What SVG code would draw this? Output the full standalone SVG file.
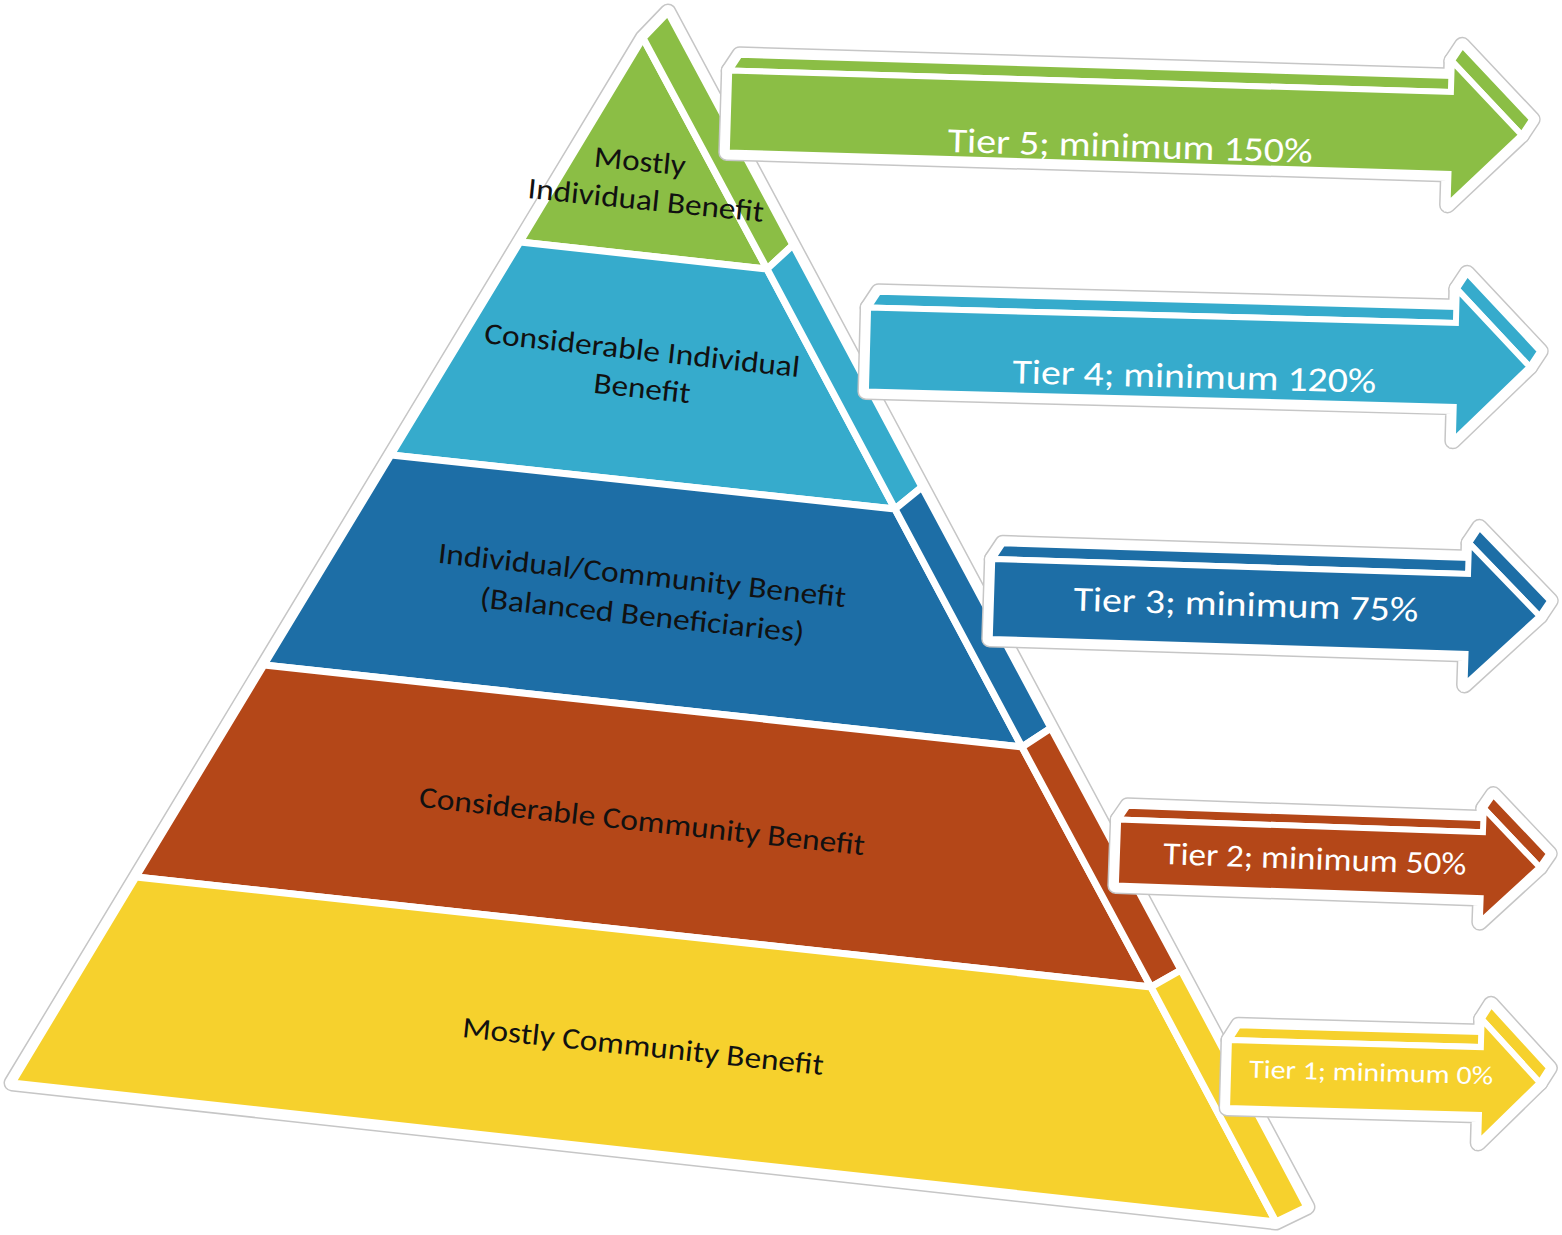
<svg xmlns="http://www.w3.org/2000/svg" xmlns:xlink="http://www.w3.org/1999/xlink" width="1562" height="1235" viewBox="0 0 1562 1235">
<style>
.ol{fill:none;stroke:#c6c6c6;stroke-width:17;stroke-linejoin:round}
.wb{fill:#fff;stroke:#fff;stroke-width:14;stroke-linejoin:round}
.pf{stroke:#fff;stroke-width:7;stroke-linejoin:miter}
.af{stroke:#fff;stroke-width:6;stroke-linejoin:miter}
.green{fill:#8BBE45}.cyan{fill:#36ABCC}.blue{fill:#1D6EA6}.orange{fill:#B44718}.yellow{fill:#F6D12D}
.pt{font-family:Carlito,Calibri,Lato,"Open Sans",sans-serif;font-size:30px;fill:#111;text-anchor:middle}
.tt{font-family:Carlito,Calibri,Lato,"Open Sans",sans-serif;fill:#fff;text-anchor:middle}
</style>
<defs>
<polygon id="pyr-sil" points="643,38 668,12 1307,1207 1276,1222 12,1083"/>
<g id="a5-shape"><polygon points="0,-41 722,-41 732,-57 10,-57"/><polygon points="722,-72 794,0 804,-16 732,-88"/><polygon points="0,-41 722,-41 722,-72 794,0 722,72 722,41 0,41"/></g>
<g id="a4-shape"><polygon points="0,-42 588,-42 598,-58 10,-58"/><polygon points="588,-76 663,0 673,-16 598,-92"/><polygon points="0,-42 588,-42 588,-76 663,0 588,76 588,42 0,42"/></g>
<g id="a3-shape"><polygon points="0,-40 476,-40 486,-56 10,-56"/><polygon points="476,-71 549,0 559,-16 486,-87"/><polygon points="0,-40 476,-40 476,-71 549,0 476,71 476,40 0,40"/></g>
<g id="a2-shape"><polygon points="0,-33 365,-33 374,-47 9,-47"/><polygon points="365,-57 423,0 432,-14 374,-71"/><polygon points="0,-33 365,-33 365,-57 423,0 365,57 365,33 0,33"/></g>
<g id="a1-shape"><polygon points="0,-34 252,-34 261,-49 9,-49"/><polygon points="252,-62 312,0 321,-15 261,-77"/><polygon points="0,-34 252,-34 252,-62 312,0 252,62 252,34 0,34"/></g>
</defs>

<g id="pyramid-outline">
<use href="#pyr-sil" class="ol"/>
<use href="#pyr-sil" class="wb"/>
</g>

<g id="level5-mostly-individual">
<polygon class="pf green" points="643,38 520,242 767,269"/>
<polygon class="pf green" points="643,38 668,12 793,245 767,269"/>
<text class="pt" x="639" y="171" textLength="92" lengthAdjust="spacingAndGlyphs" transform="rotate(5.5 639 171)">Mostly</text>
<text class="pt" x="645" y="210" textLength="237" lengthAdjust="spacingAndGlyphs" transform="rotate(5.8 645 210)">Individual Benefit</text>
</g>

<g id="level4-considerable-individual">
<polygon class="pf cyan" points="520,242 767,269 895,509 391,455"/>
<polygon class="pf cyan" points="767,269 793,245 922,487 895,509"/>
<text class="pt" x="641" y="360" textLength="317" lengthAdjust="spacingAndGlyphs" transform="rotate(6.2 641 360)">Considerable Individual</text>
<text class="pt" x="641" y="398" textLength="97" lengthAdjust="spacingAndGlyphs" transform="rotate(6.2 641 398)">Benefit</text>
</g>

<g id="level3-balanced">
<polygon class="pf blue" points="391,455 895,509 1022,747 264,665"/>
<polygon class="pf blue" points="895,509 922,487 1051,728 1022,747"/>
<text class="pt" x="641" y="585" textLength="410" lengthAdjust="spacingAndGlyphs" transform="rotate(6.2 641 585)">Individual/Community Benefit</text>
<text class="pt" x="641" y="625" textLength="326" lengthAdjust="spacingAndGlyphs" transform="rotate(6.2 641 625)">(Balanced Beneficiaries)</text>
</g>

<g id="level2-considerable-community">
<polygon class="pf orange" points="264,665 1022,747 1151,987 136,877"/>
<polygon class="pf orange" points="1022,747 1051,728 1181,970 1151,987"/>
<text class="pt" x="641" y="831" textLength="448" lengthAdjust="spacingAndGlyphs" transform="rotate(6.2 641 831)">Considerable Community Benefit</text>
</g>

<g id="level1-mostly-community">
<polygon class="pf yellow" points="136,877 1151,987 1276,1222 12,1083"/>
<polygon class="pf yellow" points="1151,987 1181,970 1307,1207 1276,1222"/>
<text class="pt" x="642" y="1056" textLength="363" lengthAdjust="spacingAndGlyphs" transform="rotate(6 642 1056)">Mostly Community Benefit</text>
</g>

<g id="connectors"></g>

<g id="arrow-tier5" transform="translate(728 111.5) rotate(1.7)">
<use href="#a5-shape" class="ol"/>
<use href="#a5-shape" class="wb"/>
<use href="#a5-shape" class="af green"/>
<text class="tt" x="403" y="34" font-size="35" textLength="365" lengthAdjust="spacingAndGlyphs">Tier 5; minimum 150%</text>
</g>

<g id="arrow-tier4" transform="translate(867 349.5) rotate(1.5)">
<use href="#a4-shape" class="ol"/>
<use href="#a4-shape" class="wb"/>
<use href="#a4-shape" class="af cyan"/>
<text class="tt" x="328" y="30" font-size="35" textLength="364" lengthAdjust="spacingAndGlyphs">Tier 4; minimum 120%</text>
</g>

<g id="arrow-tier3" transform="translate(991 599) rotate(1.8)">
<use href="#a3-shape" class="ol"/>
<use href="#a3-shape" class="wb"/>
<use href="#a3-shape" class="af blue"/>
<text class="tt" x="255" y="9" font-size="35" textLength="345" lengthAdjust="spacingAndGlyphs">Tier 3; minimum 75%</text>
</g>

<g id="arrow-tier2" transform="translate(1117 852.5) rotate(2)">
<use href="#a2-shape" class="ol"/>
<use href="#a2-shape" class="wb"/>
<use href="#a2-shape" class="af orange"/>
<text class="tt" x="198" y="10" font-size="32" textLength="303" lengthAdjust="spacingAndGlyphs">Tier 2; minimum 50%</text>
</g>

<g id="arrow-tier1" transform="translate(1228 1074) rotate(1.6)">
<use href="#a1-shape" class="ol"/>
<use href="#a1-shape" class="wb"/>
<use href="#a1-shape" class="af yellow"/>
<text class="tt" x="143" y="3" font-size="26" textLength="244" lengthAdjust="spacingAndGlyphs">Tier 1; minimum 0%</text>
</g>
</svg>
